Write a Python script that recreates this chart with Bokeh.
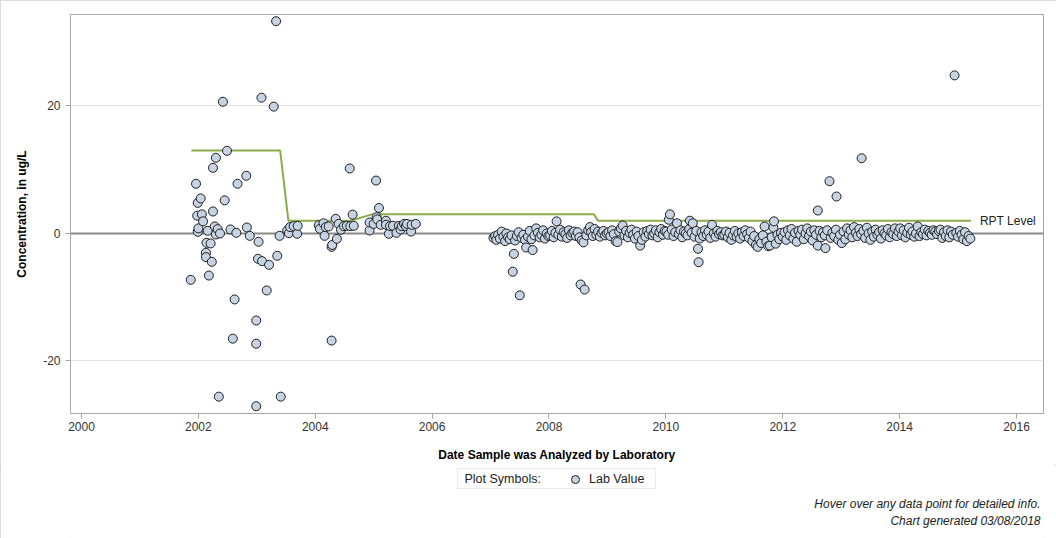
from bokeh.plotting import figure
from bokeh.layouts import column
from bokeh.models import (Range1d, FixedTicker, Span, Label, Legend, LegendItem,
                          BoxAnnotation)
from bokeh.embed import file_html
from bokeh.resources import INLINE

FONT = "Liberation Sans"

# ---- RPT (reporting) level over time ----
rpt_dates = [2001.88, 2003.40, 2003.54, 2004.60, 2004.97, 2008.77, 2008.84, 2015.22]
rpt_vals = [13.0, 13.0, 2.0, 2.0, 3.0, 3.0, 2.0, 2.0]

# ---- lab values, 2001-2005 ----
dates_early = [2001.87, 2001.96, 2001.98, 2001.99, 2001.99, 2002.00, 2002.04, 2002.06, 2002.08,
               2002.13, 2002.13, 2002.14, 2002.16, 2002.18, 2002.21, 2002.23, 2002.25, 2002.25,
               2002.28, 2002.30, 2002.30, 2002.33, 2002.35, 2002.37, 2002.42, 2002.45, 2002.49,
               2002.55, 2002.59, 2002.62, 2002.65, 2002.67, 2002.82, 2002.83, 2002.88, 2002.99,
               2002.99, 2002.99, 2003.02, 2003.03, 2003.08, 2003.09, 2003.17, 2003.21, 2003.29,
               2003.33, 2003.35, 2003.39, 2003.41,
               2003.52, 2003.55, 2003.57, 2003.63, 2003.69, 2003.70,
               2004.06, 2004.08, 2004.14, 2004.16, 2004.18, 2004.23, 2004.28, 2004.28, 2004.29,
               2004.35, 2004.37, 2004.40, 2004.44, 2004.49, 2004.54, 2004.59, 2004.60, 2004.64,
               2004.66,
               2004.93, 2004.93, 2005.00, 2005.04, 2005.05, 2005.06, 2005.09, 2005.12, 2005.21,
               2005.21, 2005.26, 2005.28, 2005.33, 2005.39, 2005.43, 2005.46, 2005.48, 2005.52,
               2005.55, 2005.57, 2005.64, 2005.65, 2005.72]
vals_early = [-7.27, 7.8, 2.8, 4.8, 0.26, 0.8, 5.5, 3.0, 1.9,
              -3.03, -3.71, -1.46, 0.42, -6.6, -1.57, -4.45, 10.3, 3.45,
              1.1, 11.87, -0.16, 0.68, -25.6, 0.0, 20.66, 5.2, 12.97,
              0.63, -16.5, -10.35, 0.1, 7.8, 9.05, 0.94, -0.37, -13.65,
              -17.3, -27.1, -3.97, -1.3, 21.3, -4.34, -8.94, -4.92, 19.9,
              33.3, -3.5, -0.37, -25.6,
              0.47, 0.05, 1.0, 1.15, -0.05, 1.2,
              1.3, 0.73, 1.6, -0.37, 1.0, 1.1, -16.8, -2.1, -1.8,
              2.3, -0.84, 1.5, 0.6, 1.15, 1.2, 10.2, 1.15, 2.95,
              1.2,
              0.47, 1.72, 1.5, 8.3, 2.56, 2.2, 4.0, 1.36, 2.0,
              1.36, -0.05, 1.15, 1.2, 0.1, 1.2, 0.63, 1.15, 1.5,
              1.15, 1.5, 0.3, 1.36, 1.5]

# ---- lab values, 2007-2015 ----
dates_late = [
    2007.05, 2007.08, 2007.10, 2007.13, 2007.16, 2007.19, 2007.22, 2007.25, 2007.27, 2007.30,
    2007.33, 2007.36, 2007.38, 2007.40, 2007.42, 2007.45, 2007.48, 2007.50, 2007.53, 2007.56,
    2007.59, 2007.61, 2007.64, 2007.67, 2007.70, 2007.72, 2007.75, 2007.78, 2007.81, 2007.84,
    2007.87, 2007.90, 2007.93, 2007.96, 2007.99,
    2008.02, 2008.05, 2008.08, 2008.11, 2008.13, 2008.16, 2008.19, 2008.22, 2008.25, 2008.28,
    2008.31, 2008.34, 2008.37, 2008.40, 2008.43, 2008.46, 2008.49, 2008.52, 2008.54, 2008.56,
    2008.59, 2008.61, 2008.64, 2008.67, 2008.70, 2008.72, 2008.75, 2008.78, 2008.81, 2008.84,
    2008.87, 2008.90, 2008.93, 2008.96, 2008.99,
    2009.02, 2009.05, 2009.08, 2009.11, 2009.14, 2009.17, 2009.20, 2009.23, 2009.26, 2009.29,
    2009.32, 2009.35, 2009.38, 2009.41, 2009.44, 2009.47, 2009.50, 2009.53, 2009.56, 2009.59,
    2009.62, 2009.65, 2009.68, 2009.71, 2009.74, 2009.77, 2009.80, 2009.83, 2009.86, 2009.89,
    2009.92, 2009.95, 2009.98,
    2010.01, 2010.04, 2010.05, 2010.07, 2010.10, 2010.13, 2010.16, 2010.19, 2010.22, 2010.25,
    2010.28, 2010.31, 2010.34, 2010.37, 2010.40, 2010.41, 2010.44, 2010.46, 2010.49, 2010.52,
    2010.55, 2010.56, 2010.58, 2010.61, 2010.64, 2010.67, 2010.70, 2010.73, 2010.76, 2010.79,
    2010.82, 2010.85, 2010.88, 2010.91, 2010.94, 2010.97,
    2011.00, 2011.03, 2011.06, 2011.09, 2011.12, 2011.15, 2011.18, 2011.21, 2011.24, 2011.27,
    2011.30, 2011.33, 2011.36, 2011.39, 2011.42, 2011.45, 2011.48, 2011.51, 2011.54, 2011.57,
    2011.60, 2011.63, 2011.66, 2011.69, 2011.72, 2011.75, 2011.78, 2011.81, 2011.84, 2011.85,
    2011.88, 2011.91, 2011.94, 2011.97,
    2012.00, 2012.03, 2012.06, 2012.09, 2012.12, 2012.15, 2012.18, 2012.21, 2012.24, 2012.27,
    2012.30, 2012.33, 2012.36, 2012.39, 2012.42, 2012.45, 2012.48, 2012.51, 2012.54, 2012.57,
    2012.60, 2012.60, 2012.63, 2012.66, 2012.69, 2012.72, 2012.73, 2012.76, 2012.80, 2012.82,
    2012.85, 2012.88, 2012.91, 2012.92, 2012.95, 2012.98,
    2013.01, 2013.04, 2013.07, 2013.10, 2013.13, 2013.16, 2013.19, 2013.22, 2013.25, 2013.28,
    2013.31, 2013.34, 2013.35, 2013.38, 2013.41, 2013.44, 2013.47, 2013.50, 2013.53, 2013.56,
    2013.59, 2013.62, 2013.65, 2013.68, 2013.71, 2013.74, 2013.77, 2013.80, 2013.83, 2013.86,
    2013.89, 2013.92, 2013.95, 2013.98,
    2014.01, 2014.04, 2014.07, 2014.10, 2014.13, 2014.16, 2014.19, 2014.22, 2014.25, 2014.28,
    2014.31, 2014.34, 2014.37, 2014.40, 2014.43, 2014.46, 2014.49, 2014.52, 2014.55, 2014.58,
    2014.61, 2014.64, 2014.67, 2014.70, 2014.73, 2014.76, 2014.79, 2014.82, 2014.85, 2014.88,
    2014.91, 2014.94, 2014.97,
    2015.00, 2015.03, 2015.06, 2015.09, 2015.12, 2015.15, 2015.18, 2015.21,
]
vals_late = [
    -0.7, -0.4, -1.0, -0.2, -0.8, 0.3, -0.5, -1.2, 0.0, -0.6,
    -0.9, -0.3, -6.0, -3.2, -1.1, -0.4, 0.2, -9.7, -0.7, -0.2,
    -1.0, -2.2, -0.5, 0.4, -0.9, -2.6, -0.3, 0.8, 0.1, -0.6,
    -0.2, 0.5, -0.8, 0.0, -0.4,
    -0.3, 0.4, -0.6, 0.1, 1.9, -0.2, 0.6, -0.5, 0.2, -0.1,
    -0.7, 0.5, -0.3, 0.1, 0.3, -0.4, 0.2, -0.6, -8.0, -1.1,
    -1.4, -8.8, -0.3, 0.5, 1.0, 0.2, -0.4, 0.7, -0.2, 0.3,
    -0.5, 0.1, 0.4, -0.3, 0.0,
    0.2, -0.4, 0.5, -0.1, -1.2, -1.35, 0.3, 0.8, 1.25, -0.3,
    0.4, -0.6, 0.1, 0.6, -0.2, -0.8, 0.3, -0.4, -1.9, -1.0,
    0.2, -0.5, 0.4, -0.1, 0.6, -0.3, 0.0, 0.5, -0.6, 0.2,
    0.7, -0.2, 0.4,
    0.3, -0.2, 2.15, 3.0, 0.6, -0.4, 0.2, 1.6, -0.1, 0.5,
    -0.6, 0.3, 0.0, -0.3, 0.7, 2.0, 0.1, 1.6, -0.5, 0.4,
    -2.4, -4.5, -0.8, 0.2, -0.4, 0.5, -0.2, 0.3, -0.7, 1.35,
    0.0, -0.5, 0.4, -0.1, 0.2, -0.3,
    -0.2, 0.3, -0.6, 0.1, -1.0, -0.3, 0.4, -0.5, 0.0, -0.8,
    0.2, -0.4, 0.5, -0.1, -0.7, 0.3, -1.2, -0.4, -1.8, -2.1,
    -0.9, -1.5, -0.3, 1.1, -1.3, -2.0, -1.9, -0.6, 0.9, 1.9,
    -1.6, -0.2, -0.9, 0.1,
    -0.5, 0.2, -1.0, 0.5, -0.3, 0.7, -0.8, 0.1, -1.3, 0.4,
    -0.2, 0.6, -0.9, 0.0, 0.8, -0.4, 0.3, -1.1, 0.5, -0.2,
    3.6, -1.9, 0.4, -0.6, 0.2, -0.3, -2.3, 0.5, 8.2, -0.7,
    0.1, -0.4, 0.6, 5.8, -1.0, -0.2,
    -1.5, 0.3, -0.9, 0.8, -0.2, 0.5, -0.6, 1.0, 0.1, -0.4,
    0.7, -0.1, 11.8, 0.4, -0.7, 0.9, 0.0, -1.0, 0.3, -0.5,
    0.6, -0.2, 0.2, -0.8, 0.5, 0.0, -0.3, 0.7, -0.6, 0.2,
    -0.1, 0.8, -0.4, 0.3,
    0.8, -0.3, 0.5, -0.6, 0.1, 0.9, -0.2, 0.3, -0.5, 0.0,
    1.1, -0.4, 0.2, -0.1, 0.6, -0.3, 0.4, 0.1, -0.2, 0.5,
    0.3, -0.1, 0.4, 0.6, -0.7, 0.2, -0.4, 0.5, -0.6, 0.3,
    -0.2, 24.8, 0.1,
    -0.5, 0.4, -0.2, -0.9, 0.2, -1.2, -0.4, -0.8,
]

x_ticks = [2000, 2002, 2004, 2006, 2008, 2010, 2012, 2014, 2016]
y_ticks = [-20, 0, 20]
y_tick_labels = {-20: "-20", 0: "0", 20: "20"}

lab_dates = dates_early + dates_late
lab_vals = vals_early + vals_late

POINT_FILL = "#c6d3e4"
POINT_LINE = "#1e1e1e"
TEXT = "#222222"

# ---------------- main chart ----------------
p = figure(width=1056, height=464, output_backend="svg", toolbar_location=None,
           title=None, x_range=Range1d(1999.812, 2016.462),
           y_range=Range1d(-28.24, 34.35),
           min_border_left=70, min_border_right=13, min_border_top=14,
           min_border_bottom=51)
p.background_fill_color = "white"
p.border_fill_color = "white"
p.outline_line_color = "#a6a6a6"
p.outline_line_width = 1

p.xgrid.grid_line_color = None
p.ygrid.grid_line_color = "#e3e3e3"
p.ygrid.grid_line_width = 1

for ax in (p.xaxis[0], p.yaxis[0]):
    ax.axis_line_color = "#a6a6a6"
    ax.major_tick_line_color = "#a6a6a6"
    ax.minor_tick_line_color = None
    ax.major_tick_in = 0
    ax.major_tick_out = 5
    ax.major_label_text_font = FONT
    ax.major_label_text_font_size = "12px"
    ax.major_label_text_color = "#333333"
    ax.axis_label_text_font = FONT
    ax.axis_label_text_font_size = "12px"
    ax.axis_label_text_font_style = "bold"
    ax.axis_label_text_color = "#000000"

p.xaxis.ticker = FixedTicker(ticks=x_ticks)
p.yaxis.ticker = FixedTicker(ticks=y_ticks)
p.yaxis.major_label_overrides = y_tick_labels
p.xaxis.axis_label = "Date Sample was Analyzed by Laboratory"
p.yaxis.axis_label = "Concentration, in ug/L"
p.xaxis.major_label_standoff = 3
p.yaxis.major_label_standoff = 5
p.xaxis.axis_label_standoff = 14
p.yaxis.axis_label_standoff = 11

# zero reference line
p.add_layout(Span(location=0, dimension="width", line_color="#8a8a8a",
                  line_width=2, level="underlay"))

# RPT level line and its label
p.line(rpt_dates, rpt_vals, line_color="#8aac4a", line_width=2)
p.add_layout(Label(x=rpt_dates[-1], y=rpt_vals[-1], x_offset=9, text="RPT Level",
                   text_font=FONT, text_font_size="12px", text_color=TEXT,
                   text_baseline="middle"))

# lab values
p.scatter(lab_dates, lab_vals, size=9, marker="circle",
          fill_color=POINT_FILL, line_color=POINT_LINE, line_width=1)

# ---------------- legend and footnotes strip ----------------
# frame aligned with the chart above; x in page pixels, y downward from strip top
STRIP_H = 74
f = figure(width=1056, height=STRIP_H, output_backend="svg", toolbar_location=None,
           title=None, x_range=Range1d(70, 1043), y_range=Range1d(STRIP_H, 0),
           x_axis_type=None, y_axis_type=None,
           min_border_left=70, min_border_right=13, min_border_top=0,
           min_border_bottom=0)
f.outline_line_color = None
f.background_fill_color = "white"
f.border_fill_color = "white"
f.grid.grid_line_color = None

f.add_layout(BoxAnnotation(left=457, right=655, top=4, bottom=24,
                           fill_color="white", fill_alpha=1,
                           line_color="#bdbdbd", line_width=1, level="underlay"))
f.add_layout(Label(x=464, y=14, text="Plot Symbols:", text_font=FONT,
                   text_font_size="12.5px", text_color=TEXT,
                   text_baseline="middle"))

# legend key: a single undrawn (NaN) point carrying the lab-value marker style
key = f.scatter(x=[float("nan")], y=[float("nan")], marker="circle", size=9,
                fill_color=POINT_FILL, line_color=POINT_LINE, line_width=1)

legend = Legend(items=[LegendItem(label="Lab Value", renderers=[key])],
                location=(495, STRIP_H - 25), orientation="horizontal",
                label_text_font=FONT, label_text_font_size="12.5px",
                label_text_color=TEXT, label_standoff=4,
                glyph_width=20, glyph_height=20, padding=1, spacing=0, margin=0,
                border_line_color=None, background_fill_alpha=0)
f.add_layout(legend)

for txt, y in [("Hover over any data point for detailed info.", 39),
               ("Chart generated 03/08/2018", 56)]:
    f.add_layout(Label(x=1040, y=y, text=txt, text_font=FONT,
                       text_font_size="12px", text_font_style="italic",
                       text_color=TEXT, text_align="right",
                       text_baseline="middle"))

page = column(p, f, spacing=0)
page.styles = {"outline": "1px solid #d0d0d0", "outline-offset": "-1px"}

open("out.html", "w").write(file_html(page, INLINE))
